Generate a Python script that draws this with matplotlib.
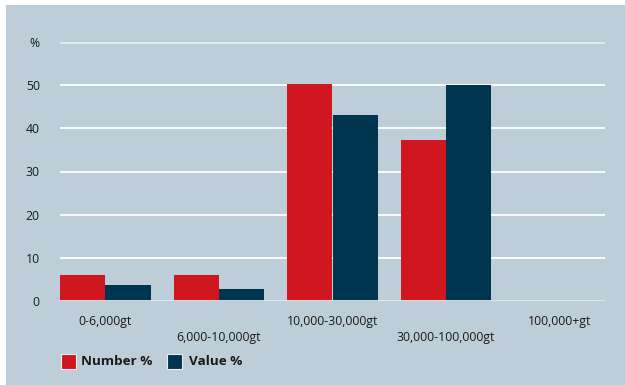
import matplotlib
matplotlib.use("Agg")
import matplotlib.pyplot as plt
import matplotlib.transforms as mtrans
from matplotlib.patches import Rectangle
import numpy as np

categories = ["0-6,000gt", "6,000-10,000gt", "10,000-30,000gt", "30,000-100,000gt", "100,000+gt"]
number_pct = [6.0, 6.0, 50.2, 37.2, 0]
value_pct = [3.7, 2.8, 43.0, 50.0, 0]
yticks = [0, 10, 20, 30, 40, 50, 60]
ytick_labels = ["0", "10", "20", "30", "40", "50", "%"]
series_names = ["Number %", "Value %"]

RED = "#D0171F"
NAVY = "#00354F"
BG = "#BECED8"
TXT = "#1a1a1a"

plt.rcParams['font.family'] = ['Open Sans', 'DejaVu Sans']

W, H = 625, 385
fig = plt.figure(figsize=(W / 100, H / 100), dpi=100, facecolor="white")
fig.add_artist(Rectangle((6 / W, 0), 1 - 6 / W, (H - 5) / H, transform=fig.transFigure,
                         facecolor=BG, edgecolor="none", zorder=-10))

ax = fig.add_axes([60 / W, 84 / H, 545 / W, 259 / H])
ax.set_facecolor("none")
x = np.arange(len(categories))
bw = 0.4
ax.bar(x - bw / 2, number_pct, bw, color=RED, zorder=3)
ax.bar(x + bw / 2, value_pct, bw, color=NAVY, zorder=3)
ax.set_xlim(-0.4, len(categories) - 0.6)
ax.set_ylim(0, 60)

for t in yticks:
    col = "white" if t not in (0, 60) else "#E4EBF0"
    lw = 1.3 if t not in (0, 60) else 2.0
    ax.axhline(t, color=col, lw=lw, zorder=2 if t != 0 else 4)

ax.set_yticks(yticks)
ax.set_yticklabels(ytick_labels, fontsize=8.8, color=TXT)
ax.tick_params(axis="y", length=0, pad=14.5)
ax.set_xticks([])
for s in ax.spines.values():
    s.set_visible(False)

trans = mtrans.blended_transform_factory(ax.transData, ax.transAxes)
for i, c in enumerate(categories):
    yy = -20 / 259 if i % 2 == 0 else -36 / 259
    ax.text(i, yy, c, transform=trans, ha="center", va="center", fontsize=8.8, color=TXT)

# legend
for (x0, col, name, tx) in [(61, RED, series_names[0], 81), (167, NAVY, series_names[1], 189)]:
    fig.add_artist(Rectangle((x0 / W, (H - 369) / H), 15 / W, 15 / H, transform=fig.transFigure,
                             facecolor=col, edgecolor="#E8EEF2", lw=0.8))
    fig.text(tx / W, (H - 361.5) / H, name, ha="left", va="center", fontsize=9.7,
             fontweight="bold", color=TXT)

fig.savefig("out.png", dpi=100, facecolor="white")
